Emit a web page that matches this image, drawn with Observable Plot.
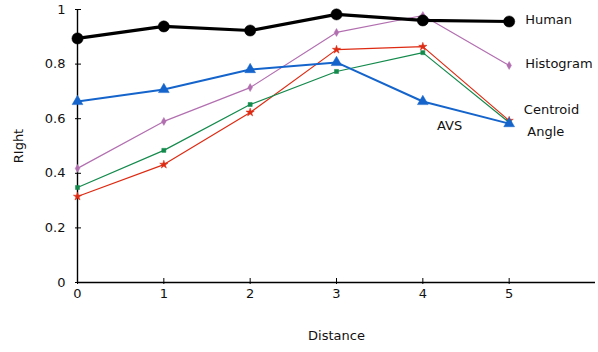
<!DOCTYPE html>
<html>
<head>
<meta charset="utf-8">
<script src="https://cdn.jsdelivr.net/npm/d3@7"></script>
<script src="https://cdn.jsdelivr.net/npm/@observablehq/plot@0.6"></script>
<style>
  body { margin: 0; background: #fff; }
  svg { font-family: "DejaVu Sans", sans-serif; }
</style>
</head>
<body>
<div id="chart"></div>
<script>
const distances = [0, 1, 2, 3, 4, 5];
const human     = [0.894, 0.938, 0.923, 0.982, 0.960, 0.956];
const avs       = [0.663, 0.707, 0.780, 0.806, 0.663, 0.582];
const histogram = [0.418, 0.590, 0.714, 0.916, 0.978, 0.795];
const centroid  = [0.348, 0.484, 0.652, 0.773, 0.842, 0.586];
const angle     = [0.315, 0.432, 0.623, 0.853, 0.864, 0.593];

const xTicks = [0, 1, 2, 3, 4, 5];
const yTicks = [0, 0.2, 0.4, 0.6, 0.8, 1];

const labelText = ["Human", "Histogram", "Centroid", "Angle", "AVS"];
const labelX    = [5.185, 5.185, 5.17, 5.21, 4.31];
const labelY    = [0.963, 0.802, 0.632, 0.553, 0.575];
const labelAnchor = ["start", "start", "start", "start", "middle"];

const seriesDefs = [
  {name: "Angle", values: angle, color: "#dd2a12", width: 1.2, symbol: "star", r: 2.6},
  {name: "Centroid", values: centroid, color: "#138a4c", width: 1.2, symbol: "square", r: 2.3},
  {name: "Histogram", values: histogram, color: "#b26fb0", width: 1.2, symbol: "diamond", r: 2.4},
  {name: "AVS", values: avs, color: "#1464cc", width: 2, symbol: "triangle", r: 4},
  {name: "Human", values: human, color: "#000000", width: 3.2, symbol: "circle", r: 5.6}
];

const marks = [
  Plot.ruleY([0], {stroke: "#000", strokeWidth: 1.4}),
  Plot.ruleX([0], {stroke: "#000", strokeWidth: 1.4}),
  Plot.axisY({ticks: yTicks, tickSize: 6, dx: 4, tickFormat: () => "", stroke: "#000", label: null}),
  Plot.axisY({ticks: yTicks, tickSize: 0, tickPadding: 12, tickFormat: d => String(d), fontSize: 13, fill: "#111", label: null}),
  Plot.axisX({ticks: xTicks, tickSize: 6, dy: -4, tickFormat: () => "", stroke: "#000", label: null}),
  Plot.axisX({ticks: xTicks, tickSize: 0, tickPadding: 6, tickFormat: d => String(d), fontSize: 13, fill: "#111", label: null}),
  Plot.text(["RIght"], {frameAnchor: "left", dx: -59, rotate: -90, fontSize: 13, fill: "#111", textAnchor: "middle"}),
  Plot.text(["Distance"], {frameAnchor: "bottom", dy: 57, fontSize: 13, fill: "#111", textAnchor: "middle"})
];

for (const s of seriesDefs) {
  const rows = distances.map((d, i) => ({x: d, y: s.values[i]}));
  marks.push(Plot.line(rows, {x: "x", y: "y", stroke: s.color, strokeWidth: s.width}));
  marks.push(Plot.dot(rows, {x: "x", y: "y", symbol: s.symbol, r: s.r, fill: s.color, stroke: s.color, strokeWidth: 0.5}));
}

const labels = labelText.map((t, i) => ({t, x: labelX[i], y: labelY[i], a: labelAnchor[i]}));
for (const anchor of ["start", "middle"]) {
  marks.push(Plot.text(labels.filter(l => l.a === anchor), {x: "x", y: "y", text: "t", textAnchor: anchor, fontSize: 13, fill: "#111"}));
}

const chart = Plot.plot({
  width: 598,
  height: 352,
  marginLeft: 77,
  marginTop: 9,
  marginRight: 3,
  marginBottom: 70,
  x: {domain: [0, 6], axis: null},
  y: {domain: [0, 1], axis: null},
  style: {fontFamily: "DejaVu Sans, sans-serif", fontSize: "13px", background: "#fff"},
  marks
});
document.getElementById("chart").appendChild(chart);
</script>
</body>
</html>
